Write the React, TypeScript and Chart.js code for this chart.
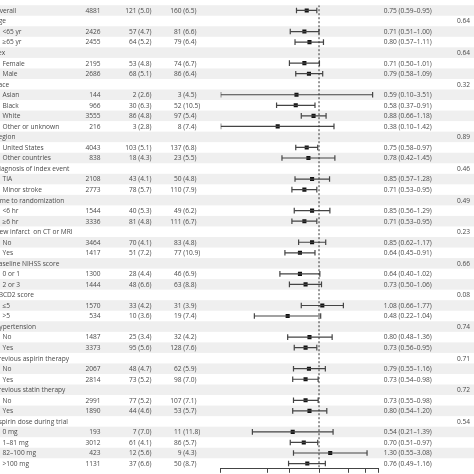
import React, { useEffect, useRef } from "react";
import { Chart, registerables } from "chart.js";

Chart.register(...registerables);

const rowLabels = [
  "Overall", "Age", "<65 yr", "\u226565 yr", "Sex", "Female", "Male", "Race", "Asian", "Black", "White",
  "Other or unknown", "Region", "United States", "Other countries", "Diagnosis of index event", "TIA",
  "Minor stroke", "Time to randomization", "<6 hr", "\u22656 hr", "New infarct  on CT or MRI", "No", "Yes",
  "Baseline NIHSS score", "0 or 1", "2 or 3", "ABCD2 score", "\u22645", ">5", "Hypertension", "No", "Yes",
  "Previous aspirin therapy", "No", "Yes", "Previous statin therapy", "No", "Yes", "Aspirin dose during trial",
  "0 mg", "1\u201381 mg", "82\u2013100 mg", ">100 mg",
];
const rowKind = [
  "h", "h", "s", "s", "h", "s", "s", "h", "s", "s", "s", "s", "h", "s", "s", "h", "s", "s", "h", "s", "s", "h",
  "s", "s", "h", "s", "s", "h", "s", "s", "h", "s", "s", "h", "s", "s", "h", "s", "s", "h", "s", "s", "s", "s",
];
const patients = [4881, null, 2426, 2455, null, 2195, 2686, null, 144, 966, 3555, 216, null, 4043, 838, null, 2108, 2773, null, 1544, 3336, null, 3464, 1417, null, 1300, 1444, null, 1570, 534, null, 1487, 3373, null, 2067, 2814, null, 2991, 1890, null, 193, 3012, 423, 1131];
const aspirinEvents = [121, null, 57, 64, null, 53, 68, null, 2, 30, 86, 3, null, 103, 18, null, 43, 78, null, 40, 81, null, 70, 51, null, 28, 48, null, 33, 10, null, 25, 95, null, 48, 73, null, 77, 44, null, 7, 61, 12, 37];
const aspirinPct = [5.0, null, 4.7, 5.2, null, 4.8, 5.1, null, 2.6, 6.3, 4.8, 2.8, null, 5.1, 4.3, null, 4.1, 5.7, null, 5.3, 4.8, null, 4.1, 7.2, null, 4.4, 6.6, null, 4.2, 3.6, null, 3.4, 5.6, null, 4.7, 5.2, null, 5.2, 4.6, null, 7.0, 4.1, 5.6, 6.6];
const placeboEvents = [160, null, 81, 79, null, 74, 86, null, 3, 52, 97, 8, null, 137, 23, null, 50, 110, null, 49, 111, null, 83, 77, null, 46, 63, null, 31, 19, null, 32, 128, null, 62, 98, null, 107, 53, null, 11, 86, 9, 50];
const placeboPct = [6.5, null, 6.6, 6.4, null, 6.7, 6.4, null, 4.5, 10.5, 5.4, 7.4, null, 6.8, 5.5, null, 4.8, 7.9, null, 6.2, 6.7, null, 4.8, 10.9, null, 6.9, 8.8, null, 3.9, 7.4, null, 4.2, 7.6, null, 5.9, 7.0, null, 7.1, 5.7, null, 11.8, 5.7, 4.3, 8.7];
const hazardRatio = [0.75, null, 0.71, 0.80, null, 0.71, 0.79, null, 0.59, 0.58, 0.88, 0.38, null, 0.75, 0.78, null, 0.85, 0.71, null, 0.85, 0.71, null, 0.85, 0.64, null, 0.64, 0.73, null, 1.08, 0.48, null, 0.80, 0.73, null, 0.79, 0.73, null, 0.73, 0.80, null, 0.54, 0.70, 1.30, 0.76];
const ciLow = [0.59, null, 0.51, 0.57, null, 0.50, 0.58, null, 0.10, 0.37, 0.66, 0.10, null, 0.58, 0.42, null, 0.57, 0.53, null, 0.56, 0.53, null, 0.62, 0.45, null, 0.40, 0.50, null, 0.66, 0.22, null, 0.48, 0.56, null, 0.55, 0.54, null, 0.55, 0.54, null, 0.21, 0.51, 0.55, 0.49];
const ciHigh = [0.95, null, 1.00, 1.11, null, 1.01, 1.09, null, 3.51, 0.91, 1.18, 1.42, null, 0.97, 1.45, null, 1.28, 0.95, null, 1.29, 0.95, null, 1.17, 0.91, null, 1.02, 1.06, null, 1.77, 1.04, null, 1.36, 0.95, null, 1.16, 0.98, null, 0.98, 1.20, null, 1.39, 0.97, 3.08, 1.16];
const pValues = [null, "0.64", null, null, "0.64", null, null, "0.32", null, null, null, null, "0.89", null, null, "0.46", null, null, "0.49", null, null, "0.23", null, null, "0.66", null, null, "0.08", null, null, "0.74", null, null, "0.71", null, null, "0.72", null, null, "0.54", null, null, null, null];
const axisTicks = [0.1, 0.3, 0.5, 1.0, 2.0, 3.0, 4.0];

const FONT = '6.6px "Open Sans"';
const TEXT = "#4a4a4a";

const tablePlugin = {
  id: "forestTable",
  beforeDraw(chart: any) {
    const { ctx, width } = chart;
    const y = chart.scales.y;
    ctx.save();
    ctx.fillStyle = "#efefef";
    rowLabels.forEach((_, i) => {
      if (i % 2 === 0) {
        const top = y.getPixelForValue(i - 0.5);
        const bot = y.getPixelForValue(i + 0.5);
        ctx.fillRect(0, top, width, bot - top);
      }
    });
    ctx.restore();
  },
  afterDraw(chart: any) {
    const { ctx } = chart;
    const y = chart.scales.y;
    ctx.save();
    ctx.font = FONT;
    ctx.fillStyle = TEXT;
    ctx.textBaseline = "middle";
    rowLabels.forEach((label, i) => {
      const py = y.getPixelForValue(i) + 0.5;
      ctx.textAlign = "left";
      ctx.fillText(label, rowKind[i] === "h" ? -5.5 : 2.5, py);
      if (patients[i] != null) {
        ctx.textAlign = "right";
        ctx.fillText(String(patients[i]), 100.5, py);
        ctx.fillText(String(aspirinEvents[i]), 136.5, py);
        ctx.textAlign = "left";
        ctx.fillText(` (${(aspirinPct[i] as number).toFixed(1)})`, 136.5, py);
        ctx.textAlign = "right";
        ctx.fillText(String(placeboEvents[i]), 181.5, py);
        ctx.textAlign = "left";
        ctx.fillText(` (${(placeboPct[i] as number).toFixed(1)})`, 181.5, py);
        ctx.fillText(
          `${(hazardRatio[i] as number).toFixed(2)} (${(ciLow[i] as number).toFixed(2)}\u2013${(ciHigh[i] as number).toFixed(2)})`,
          383.7,
          py
        );
      }
      if (pValues[i] != null) {
        ctx.textAlign = "right";
        ctx.fillText(pValues[i] as string, 470, py);
      }
    });
    ctx.restore();
  },
};

export default function App() {
  const ref = useRef<HTMLCanvasElement>(null);
  useEffect(() => {
    const whiskers: any[] = [];
    const caps: any[] = [];
    const points: any[] = [];
    hazardRatio.forEach((v, i) => {
      if (v == null) return;
      whiskers.push({ x: ciLow[i], y: i }, { x: ciHigh[i], y: i }, { x: ciHigh[i], y: null });
      caps.push({ x: ciLow[i], y: i }, { x: ciHigh[i], y: i });
      points.push({ x: v, y: i });
    });
    const chart = new Chart(ref.current as HTMLCanvasElement, {
      type: "scatter",
      data: {
        datasets: [
          {
            data: [{ x: 1, y: -0.5 }, { x: 1, y: 43.5 }],
            showLine: true,
            borderColor: "#333",
            borderWidth: 1,
            borderDash: [2, 2],
            pointRadius: 0,
          },
          {
            data: whiskers,
            showLine: true,
            spanGaps: false,
            borderColor: "#444",
            borderWidth: 1.2,
            pointRadius: 0,
          },
          {
            data: caps,
            pointStyle: "line",
            rotation: 90,
            pointRadius: 2.8,
            borderColor: "#444",
            borderWidth: 1.2,
          },
          {
            data: points,
            pointStyle: "rect",
            pointRadius: 2.9,
            backgroundColor: "#111",
            borderColor: "#111",
            borderWidth: 0,
          },
        ],
      } as any,
      options: {
        animation: false,
        responsive: false,
        events: [],
        layout: { padding: { left: 220.7, right: 95.8, top: 0, bottom: 0 } },
        plugins: { legend: { display: false }, tooltip: { enabled: false } },
        scales: {
          x: {
            type: "logarithmic",
            min: 0.1,
            max: 4,
            afterBuildTicks: (scale: any) => {
              scale.ticks = axisTicks.map((v) => ({ value: v }));
            },
            ticks: { display: false },
            grid: { drawOnChartArea: false, drawTicks: true, tickLength: 4, color: "#444", lineWidth: 1 },
            border: { display: true, color: "#444", width: 1 },
          },
          y: {
            type: "linear",
            min: -0.5,
            max: 43.5,
            reverse: true,
            display: false,
          },
        },
      } as any,
      plugins: [tablePlugin],
    });
    return () => chart.destroy();
  }, []);
  return (
    <div style={{ position: "absolute", left: 0, top: 0, width: 474, height: 474, background: "#fff" }}>
      <canvas ref={ref} width={474} height={474} style={{ display: "block", width: 474, height: 474 }} />
    </div>
  );
}
